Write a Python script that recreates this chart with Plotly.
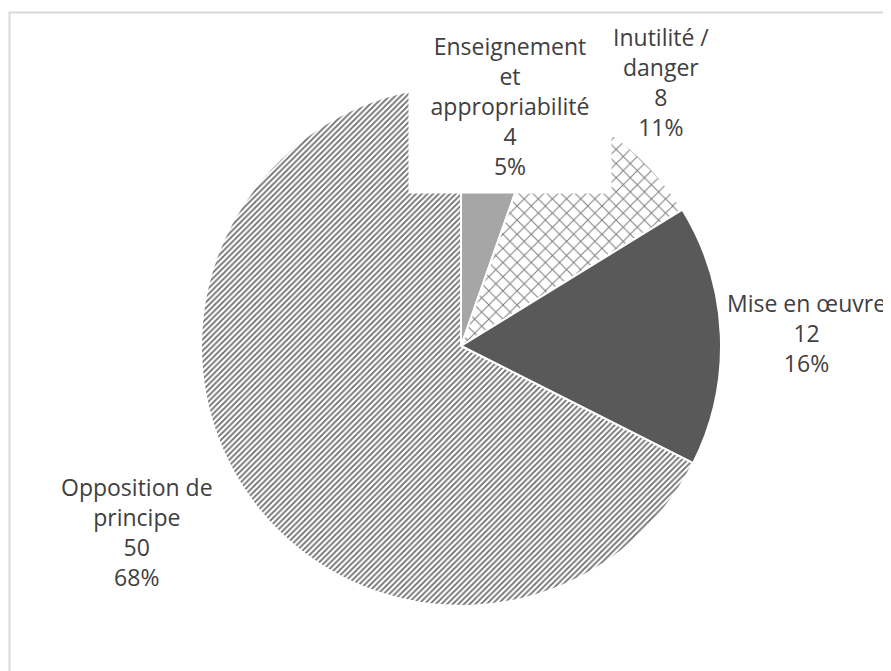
"""Camembert : motifs d'opposition (reproduction Plotly)."""

import plotly.graph_objects as go

W, H = 891, 671
OFFSET = 8  # marge par défaut du <body> dans la page HTML

# Données
categories = [
    "Enseignement et appropriabilité",
    "Inutilité / danger",
    "Mise en œuvre",
    "Opposition de principe",
]
label_lines = [
    "Enseignement<br>et<br>appropriabilité",
    "Inutilité /<br>danger",
    "Mise en œuvre",
    "Opposition de<br>principe",
]
values = [4, 8, 12, 50]

FILL = ["#a6a6a6", "white", "#595959", "white"]
PATTERN = ["", "x", "", "/"]
TEXT_COLOR = "#404040"
FONT = "Open Sans, Noto Sans, sans-serif"


def px_x(x):
    return (x - OFFSET) / W


def px_y(y):
    return 1 - (y - OFFSET) / H


total = sum(values)
pcts = [round(v / total * 100) for v in values]

fig = go.Figure(go.Pie(
    labels=categories,
    values=values,
    sort=False,
    direction="clockwise",
    rotation=0,
    textinfo="none",
    hoverinfo="label+value+percent",
    marker=dict(
        colors=FILL,
        line=dict(color="white", width=2),
        pattern=dict(
            shape=PATTERN,
            fgcolor=["#a6a6a6", "#7a7a7a", "#595959", "#6e6e6e"],
            bgcolor=FILL,
            size=[8, 10, 4, 4],
            solidity=[0.3, 0.18, 0.3, 0.45],
            fillmode="replace",
        ),
    ),
    domain=dict(x=[px_x(201), px_x(721)], y=[px_y(606), px_y(86)]),
    showlegend=False,
))

# Étiquettes de données (position en pixels de l'image)
label_pos = [(510, 106), (661, 82), (806, 333), (137, 532)]
label_box = [(200, 172), None, None, None]

for name, v, p, (x, y), box in zip(label_lines, values, pcts, label_pos, label_box):
    ann = dict(
        text=f"{name}<br>{v}<br>{p}%",
        x=px_x(x), y=px_y(y), xref="paper", yref="paper",
        xanchor="center", yanchor="middle", align="center",
        showarrow=False,
        font=dict(family=FONT, size=23, color=TEXT_COLOR),
    )
    if box:
        ann.update(bgcolor="white", width=box[0], height=box[1])
    fig.add_annotation(**ann)

# Cadre du graphique
fig.add_shape(
    type="rect", xref="paper", yref="paper",
    x0=px_x(9.5), x1=1.02, y0=-0.02, y1=px_y(12.5),
    line=dict(color="#d9d9d9", width=2),
)

fig.update_layout(
    width=W, height=H,
    margin=dict(l=0, r=0, t=0, b=0),
    paper_bgcolor="white",
    plot_bgcolor="white",
    font=dict(family=FONT, color=TEXT_COLOR),
)

fig.write_html("out.html")
